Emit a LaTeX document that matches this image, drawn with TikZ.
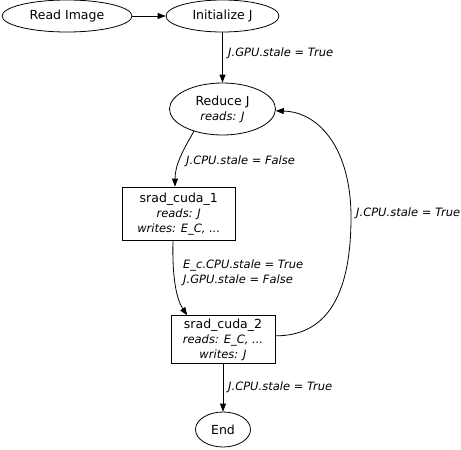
\documentclass[tikz,border=0pt]{standalone}
\usepackage{fontspec}
\setmainfont{DejaVu Sans}
\usetikzlibrary{arrows.meta,shapes.geometric}

\newcommand{\attr}[1]{{\fontsize{11.5}{15}\selectfont\itshape #1}}

\begin{document}
\begin{tikzpicture}[x=1pt,y=-1pt,
    every node/.style={font=\fontsize{12.5}{15}\selectfont},
    oval/.style={draw, ellipse, inner sep=0pt, align=center, line width=0.8pt},
    task/.style={draw, rectangle, inner sep=0pt, align=center, line width=0.8pt},
    cond/.style={font=\fontsize{11.5}{15}\selectfont\itshape, inner sep=0pt, anchor=west, align=left},
    flow/.style={-{Triangle[length=8pt,width=6pt]}, line width=0.8pt}]
  \useasboundingbox (0,0) rectangle (461,450);

  % steps
  \node[oval, minimum width=130pt, minimum height=32pt] (read) at (67,16) {Read Image};
  \node[oval, minimum width=113pt, minimum height=32pt] (init) at (222.5,16) {Initialize J};
  \node[oval, minimum width=106pt, minimum height=52pt] (reduce) at (222.5,109)
    {Reduce J\\ \attr{reads: J}};
  \node[task, minimum width=112.5pt, minimum height=53.5pt] (srad1) at (178.75,213.75)
    {srad\_cuda\_1\\ \attr{reads: J}\\ \attr{writes: E\_C, ...}};
  \node[task, minimum width=104pt, minimum height=47.5pt] (srad2) at (223,339.5)
    {srad\_cuda\_2\\ \attr{reads: E\_C, ...}\\ \attr{writes: J}};
  \node[oval, minimum width=55pt, minimum height=35pt] (end) at (223,429.5) {End};

  % flow between steps
  \draw[flow] (read) -- (init);
  \draw[flow] (init) -- (reduce);
  \draw[flow] (reduce.218) .. controls (183,150) and (175,165) .. ([xshift=-3.75pt]srad1.north);
  \draw[flow] ([xshift=-5.75pt]srad1.south) .. controls (172,280) and (177,300) .. (srad2.146);
  \draw[flow] (srad2.4) .. controls (330,336) and (351,290) .. (351,217)
    .. controls (351,150) and (320,112) .. (reduce.358);
  \draw[flow] (srad2) -- (end);

  % conditions
  \node[cond] (c1) at (228,53) {J.GPU.stale = True};
  \node[cond] (c2) at (186,161) {J.CPU.stale = False};
  \node[cond] (c3) at (183,272.5) {E\_c.CPU.stale = True\\ J.GPU.stale = False};
  \node[cond] (c4) at (356,213) {J.CPU.stale = True};
  \node[cond] (c5) at (228,387) {J.CPU.stale = True};
\end{tikzpicture}
\end{document}
